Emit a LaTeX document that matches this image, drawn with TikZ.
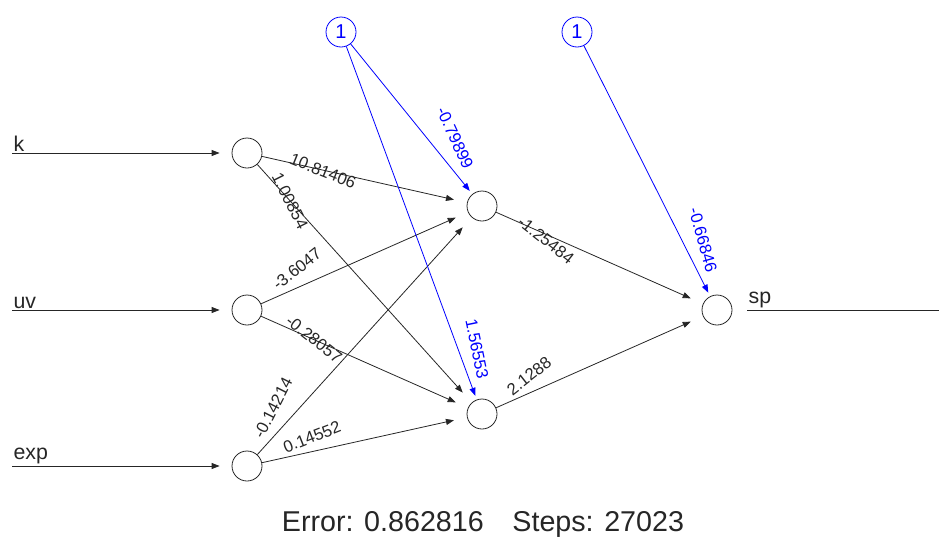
\documentclass[tikz,border=0pt]{standalone}
\usepackage{fontspec}
\setmainfont{Liberation Sans}
\usetikzlibrary{arrows.meta}
\begin{document}
\begin{tikzpicture}[x=0.75pt,y=-0.75pt,
  neuron/.style={circle,draw=black!85,line width=0.6pt,minimum size=22.5pt,inner sep=0pt},
  biasnode/.style={circle,draw=blue,text=blue,line width=0.6pt,minimum size=22.5pt,inner sep=0pt,font=\fontsize{15}{15}\selectfont},
  syn/.style={draw=black!85,line width=0.6pt,-{Triangle[length=6pt,width=4.5pt]},shorten >=10pt},
  bsyn/.style={draw=blue,line width=0.6pt,-{Triangle[length=6pt,width=4.5pt]},shorten >=3pt},
  plain/.style={draw=black!85,line width=0.6pt},
  wlab/.style={font=\fontsize{12.5}{13}\selectfont,inner sep=0pt,text=black!85},
  blab/.style={wlab,text=blue},
  iolab/.style={font=\fontsize{16}{16}\selectfont,inner sep=1pt,anchor=south west,text=black!85},
  footer/.style={font=\fontsize{21.5}{24}\selectfont,inner sep=0pt,text=black!85}
]
\useasboundingbox (0,0) rectangle (939,536);

% neurons
\node[neuron] (k) at (247,153) {};
\node[neuron] (uv) at (247,310) {};
\node[neuron] (exp) at (247,466) {};
\node[neuron] (h1) at (482,206) {};
\node[neuron] (h2) at (482,414) {};
\node[neuron] (sp) at (717,310) {};
\node[biasnode] (b1) at (341,32) {1};
\node[biasnode] (b2) at (577,32) {1};

% input / output lines
\coordinate (kin) at (12,153);
\coordinate (uvin) at (12,310);
\coordinate (expin) at (12,466);
\coordinate (spout) at (939,310);
\draw[syn,shorten >=9pt] (kin) -- (k);
\draw[syn,shorten >=9pt] (uvin) -- (uv);
\draw[syn,shorten >=9pt] (expin) -- (exp);
\draw[plain,shorten <=11.25pt] (sp) -- (spout);
\node[iolab] (kl) at (kin) {k};
\node[iolab] (uvl) at (uvin) {uv};
\node[iolab] (expl) at (expin) {exp};
\node[iolab] (spl) at (747,310) {sp};

% synapses
\draw[syn] (k) -- (h1);
\draw[syn] (k) -- (h2);
\draw[syn] (uv) -- (h1);
\draw[syn] (uv) -- (h2);
\draw[syn] (exp) -- (h1);
\draw[syn] (exp) -- (h2);
\draw[syn] (h1) -- (sp);
\draw[syn] (h2) -- (sp);
\draw[bsyn] (b1) -- (h1);
\draw[bsyn] (b1) -- (h2);
\draw[bsyn] (b2) -- (sp);

% weights
\node[wlab,rotate=-21.9] (w1) at (323,171) {10.81406};
\node[wlab,rotate=-63.2] (w2) at (290,201) {1.00854};
\node[wlab,rotate=38.2] (w3) at (297,269) {-3.6047};
\node[wlab,rotate=-38.2] (w4) at (314,339) {-0.28057};
\node[wlab,rotate=63] (w5) at (273,408) {-0.14214};
\node[wlab,rotate=21.5] (w6) at (312,437) {0.14552};
\node[wlab,rotate=-38.2] (w7) at (546,240) {-1.25484};
\node[wlab,rotate=38.2] (w8) at (529,376) {2.1288};
\node[blab,rotate=-65.4] (w9) at (455,138) {-0.79899};
\node[blab,rotate=-78.3] (w10) at (477,349) {1.56553};
\node[blab,rotate=-74.2] (w11) at (703,240) {-0.66846};

% footer
\node[footer] (info) at (483,524) {Error: 0.862816\hspace{1em}Steps: 27023};
\end{tikzpicture}
\end{document}
